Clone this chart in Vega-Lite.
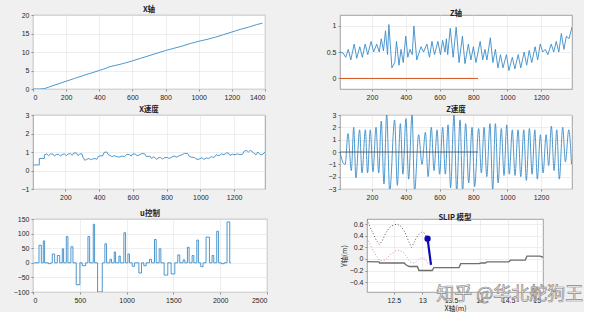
{
"$schema": "https://vega.github.io/schema/vega-lite/v6.json",
"background": "#f0f0f0",
"padding": {"left": 12, "top": 5, "right": 0, "bottom": 0},
"spacing": 4,
"datasets": {
"xpos": [{"t":0,"v":0},{"t":40,"v":0},{"t":70,"v":0.1},{"t":100,"v":0.6},{"t":150,"v":1.35},{"t":200,"v":2.1},{"t":250,"v":2.85},{"t":300,"v":3.6},{"t":350,"v":4.3},{"t":400,"v":5.0},{"t":440,"v":5.6},{"t":460,"v":6.0},{"t":500,"v":6.4},{"t":550,"v":6.95},{"t":600,"v":7.6},{"t":650,"v":8.3},{"t":700,"v":9.0},{"t":750,"v":9.7},{"t":800,"v":10.4},{"t":850,"v":11.0},{"t":900,"v":11.6},{"t":950,"v":12.3},{"t":1000,"v":12.9},{"t":1050,"v":13.4},{"t":1100,"v":14.0},{"t":1150,"v":14.7},{"t":1200,"v":15.4},{"t":1250,"v":16.1},{"t":1300,"v":16.7},{"t":1350,"v":17.4},{"t":1385,"v":17.8}],
"zpos": [{"t":11,"v":0.5},{"t":30,"v":0.48},{"t":45,"v":0.4},{"t":60,"v":0.55},{"t":75,"v":0.35},{"t":95,"v":0.65},{"t":110,"v":0.38},{"t":128,"v":0.6},{"t":143,"v":0.4},{"t":160,"v":0.65},{"t":175,"v":0.45},{"t":195,"v":0.7},{"t":210,"v":0.5},{"t":228,"v":0.65},{"t":243,"v":0.5},{"t":255,"v":0.75},{"t":268,"v":0.52},{"t":280,"v":0.9},{"t":292,"v":0.45},{"t":300,"v":1.02},{"t":318,"v":0.2},{"t":335,"v":0.3},{"t":345,"v":0.7},{"t":360,"v":0.25},{"t":372,"v":0.55},{"t":385,"v":0.3},{"t":400,"v":0.8},{"t":412,"v":0.4},{"t":425,"v":0.55},{"t":438,"v":0.45},{"t":448,"v":0.99},{"t":465,"v":0.35},{"t":490,"v":0.6},{"t":505,"v":0.5},{"t":525,"v":0.65},{"t":540,"v":0.4},{"t":555,"v":0.7},{"t":570,"v":0.45},{"t":590,"v":0.7},{"t":605,"v":0.45},{"t":618,"v":0.72},{"t":632,"v":0.5},{"t":640,"v":0.75},{"t":648,"v":0.45},{"t":663,"v":0.95},{"t":680,"v":0.4},{"t":698,"v":0.97},{"t":715,"v":0.3},{"t":735,"v":0.8},{"t":750,"v":0.28},{"t":770,"v":0.65},{"t":785,"v":0.35},{"t":800,"v":0.6},{"t":815,"v":0.3},{"t":840,"v":0.7},{"t":855,"v":0.35},{"t":868,"v":0.55},{"t":880,"v":0.35},{"t":900,"v":0.77},{"t":915,"v":0.3},{"t":930,"v":0.55},{"t":945,"v":0.2},{"t":960,"v":0.45},{"t":975,"v":0.2},{"t":995,"v":0.45},{"t":1010,"v":0.15},{"t":1030,"v":0.4},{"t":1045,"v":0.18},{"t":1065,"v":0.45},{"t":1080,"v":0.2},{"t":1100,"v":0.5},{"t":1115,"v":0.25},{"t":1130,"v":0.53},{"t":1145,"v":0.3},{"t":1165,"v":0.6},{"t":1180,"v":0.35},{"t":1195,"v":0.65},{"t":1210,"v":0.5},{"t":1225,"v":0.55},{"t":1240,"v":0.45},{"t":1260,"v":0.65},{"t":1275,"v":0.5},{"t":1290,"v":0.7},{"t":1305,"v":0.5},{"t":1320,"v":0.85},{"t":1335,"v":0.55},{"t":1350,"v":0.8},{"t":1365,"v":0.75},{"t":1383,"v":0.97}],
"zline": [{"t":11,"v":0},{"t":827,"v":0}],
"xvel": [{"t":10,"v":0.3},{"t":45,"v":0.3},{"t":46,"v":0.65},{"t":75,"v":0.65},{"t":76,"v":0.85},{"t":90,"v":0.9},{"t":100,"v":0.8},{"t":110,"v":0.88},{"t":125,"v":0.9},{"t":135,"v":0.78},{"t":145,"v":0.86},{"t":160,"v":0.88},{"t":170,"v":0.78},{"t":180,"v":0.85},{"t":195,"v":0.9},{"t":205,"v":0.8},{"t":215,"v":0.88},{"t":230,"v":0.92},{"t":240,"v":0.82},{"t":250,"v":0.95},{"t":265,"v":0.95},{"t":275,"v":0.8},{"t":285,"v":0.9},{"t":298,"v":0.9},{"t":305,"v":0.7},{"t":315,"v":0.55},{"t":325,"v":0.6},{"t":340,"v":0.65},{"t":350,"v":0.58},{"t":360,"v":0.62},{"t":375,"v":0.65},{"t":385,"v":0.6},{"t":395,"v":0.75},{"t":410,"v":0.8},{"t":420,"v":0.78},{"t":430,"v":0.98},{"t":445,"v":1.0},{"t":455,"v":0.85},{"t":465,"v":0.82},{"t":475,"v":0.75},{"t":490,"v":0.8},{"t":505,"v":0.75},{"t":520,"v":0.72},{"t":535,"v":0.78},{"t":550,"v":0.75},{"t":565,"v":0.88},{"t":580,"v":0.85},{"t":590,"v":0.78},{"t":600,"v":0.9},{"t":615,"v":0.88},{"t":625,"v":0.8},{"t":640,"v":0.85},{"t":655,"v":0.92},{"t":670,"v":0.9},{"t":680,"v":0.75},{"t":700,"v":0.78},{"t":710,"v":0.65},{"t":725,"v":0.75},{"t":740,"v":0.6},{"t":755,"v":0.7},{"t":765,"v":0.7},{"t":775,"v":0.62},{"t":790,"v":0.7},{"t":805,"v":0.7},{"t":815,"v":0.65},{"t":830,"v":0.72},{"t":845,"v":0.78},{"t":860,"v":0.72},{"t":875,"v":0.8},{"t":890,"v":0.85},{"t":905,"v":0.92},{"t":925,"v":0.92},{"t":935,"v":0.75},{"t":950,"v":0.72},{"t":965,"v":0.7},{"t":980,"v":0.6},{"t":995,"v":0.62},{"t":1010,"v":0.7},{"t":1020,"v":0.6},{"t":1035,"v":0.68},{"t":1050,"v":0.65},{"t":1065,"v":0.75},{"t":1080,"v":0.7},{"t":1095,"v":0.85},{"t":1110,"v":0.8},{"t":1125,"v":0.9},{"t":1140,"v":0.85},{"t":1155,"v":0.95},{"t":1165,"v":0.95},{"t":1175,"v":0.82},{"t":1190,"v":0.88},{"t":1205,"v":0.85},{"t":1220,"v":0.9},{"t":1235,"v":0.85},{"t":1250,"v":0.88},{"t":1260,"v":1.05},{"t":1275,"v":1.08},{"t":1285,"v":1.0},{"t":1295,"v":1.08},{"t":1305,"v":1.05},{"t":1315,"v":0.95},{"t":1330,"v":0.85},{"t":1340,"v":1.0},{"t":1350,"v":0.9},{"t":1360,"v":0.85},{"t":1370,"v":0.88},{"t":1383,"v":1.0}],
"zvel": [{"t":11,"v":0},{"t":22,"v":-0.6},{"t":32,"v":-0.95},{"t":42,"v":-1.0},{"t":58,"v":1.5},{"t":78,"v":-1.5},{"t":92,"v":2.0},{"t":105,"v":-2.1},{"t":127,"v":1.8},{"t":141,"v":-1.7},{"t":161,"v":1.8},{"t":174,"v":-1.7},{"t":190,"v":1.8},{"t":206,"v":-1.6},{"t":224,"v":2.0},{"t":240,"v":-1.7},{"t":255,"v":2.5},{"t":271,"v":-2.6},{"t":287,"v":3.1},{"t":305,"v":-3.2},{"t":334,"v":2.6},{"t":350,"v":-2.7},{"t":368,"v":2.3},{"t":383,"v":-1.8},{"t":401,"v":2.7},{"t":417,"v":-2.2},{"t":437,"v":3.1},{"t":452,"v":-3.2},{"t":476,"v":1.4},{"t":496,"v":-1.0},{"t":516,"v":1.6},{"t":532,"v":-2.0},{"t":551,"v":2.0},{"t":567,"v":-1.5},{"t":585,"v":1.8},{"t":600,"v":-1.8},{"t":618,"v":2.0},{"t":634,"v":-1.8},{"t":650,"v":2.2},{"t":665,"v":-2.9},{"t":685,"v":3.0},{"t":701,"v":-3.2},{"t":721,"v":2.6},{"t":736,"v":-3.2},{"t":754,"v":2.3},{"t":772,"v":-2.5},{"t":792,"v":2.0},{"t":807,"v":-2.8},{"t":831,"v":1.9},{"t":847,"v":-1.7},{"t":863,"v":2.0},{"t":879,"v":-2.0},{"t":898,"v":2.3},{"t":914,"v":-3.1},{"t":930,"v":2.3},{"t":946,"v":-2.5},{"t":965,"v":1.9},{"t":981,"v":-1.9},{"t":997,"v":2.2},{"t":1012,"v":-1.8},{"t":1030,"v":1.8},{"t":1046,"v":-1.9},{"t":1064,"v":1.8},{"t":1080,"v":-2.0},{"t":1098,"v":1.8},{"t":1113,"v":-2.3},{"t":1131,"v":1.9},{"t":1147,"v":-1.8},{"t":1163,"v":1.8},{"t":1178,"v":-2.2},{"t":1196,"v":1.4},{"t":1212,"v":-1.7},{"t":1230,"v":1.4},{"t":1245,"v":-1.1},{"t":1261,"v":2.1},{"t":1277,"v":-1.5},{"t":1293,"v":1.8},{"t":1308,"v":-2.2},{"t":1328,"v":2.0},{"t":1344,"v":-0.8},{"t":1364,"v":1.8},{"t":1380,"v":-1.0}],
"u": [{"t":10,"v":0},{"t":64,"v":60},{"t":89,"v":0},{"t":110,"v":75},{"t":124,"v":0},{"t":165,"v":-3},{"t":190,"v":0},{"t":206,"v":30},{"t":231,"v":0},{"t":260,"v":25},{"t":285,"v":0},{"t":313,"v":48},{"t":327,"v":0},{"t":356,"v":90},{"t":373,"v":0},{"t":405,"v":55},{"t":427,"v":0},{"t":462,"v":-75},{"t":501,"v":0},{"t":526,"v":-10},{"t":562,"v":0},{"t":587,"v":90},{"t":605,"v":0},{"t":644,"v":132},{"t":658,"v":0},{"t":690,"v":-100},{"t":740,"v":0},{"t":768,"v":65},{"t":786,"v":0},{"t":822,"v":12},{"t":839,"v":0},{"t":868,"v":37},{"t":882,"v":0},{"t":918,"v":23},{"t":932,"v":0},{"t":971,"v":103},{"t":989,"v":0},{"t":1014,"v":30},{"t":1031,"v":0},{"t":1060,"v":-12},{"t":1085,"v":0},{"t":1131,"v":-35},{"t":1159,"v":0},{"t":1184,"v":-10},{"t":1209,"v":0},{"t":1245,"v":12},{"t":1266,"v":0},{"t":1298,"v":80},{"t":1316,"v":0},{"t":1348,"v":48},{"t":1366,"v":0},{"t":1401,"v":-42},{"t":1440,"v":0},{"t":1476,"v":-38},{"t":1515,"v":0},{"t":1547,"v":27},{"t":1568,"v":0},{"t":1604,"v":10},{"t":1622,"v":0},{"t":1650,"v":53},{"t":1668,"v":0},{"t":1700,"v":25},{"t":1718,"v":0},{"t":1750,"v":78},{"t":1767,"v":0},{"t":1792,"v":-13},{"t":1817,"v":0},{"t":1849,"v":88},{"t":1885,"v":0},{"t":1913,"v":25},{"t":1931,"v":0},{"t":1963,"v":108},{"t":1981,"v":0},{"t":2013,"v":-3},{"t":2041,"v":0},{"t":2073,"v":140},{"t":2102,"v":0},{"t":2116,"v":0}],
"ground": [{"x":12.03,"y":-0.045},{"x":12.24,"y":-0.05},{"x":12.25,"y":-0.07},{"x":12.68,"y":-0.07},{"x":12.71,"y":-0.1},{"x":12.77,"y":-0.13},{"x":12.91,"y":-0.13},{"x":12.94,"y":-0.2},{"x":13.17,"y":-0.2},{"x":13.2,"y":-0.15},{"x":13.64,"y":-0.15},{"x":13.67,"y":-0.08},{"x":13.99,"y":-0.08},{"x":14.02,"y":-0.07},{"x":14.1,"y":-0.07},{"x":14.13,"y":-0.05},{"x":14.51,"y":-0.05},{"x":14.54,"y":-0.02},{"x":14.8,"y":-0.02},{"x":14.83,"y":0.05},{"x":15.06,"y":0.05},{"x":15.11,"y":0.03}],
"com": [{"x":12.03,"y":0.68},{"x":12.08,"y":0.56},{"x":12.14,"y":0.43},{"x":12.2,"y":0.31},{"x":12.25,"y":0.25},{"x":12.3,"y":0.32},{"x":12.36,"y":0.45},{"x":12.43,"y":0.55},{"x":12.5,"y":0.59},{"x":12.56,"y":0.6},{"x":12.63,"y":0.56},{"x":12.7,"y":0.45},{"x":12.76,"y":0.3},{"x":12.81,"y":0.2},{"x":12.86,"y":0.3},{"x":12.92,"y":0.41},{"x":12.98,"y":0.46},{"x":13.03,"y":0.45},{"x":13.07,"y":0.39},{"x":13.09,"y":0.35}],
"foot": [{"x":12.03,"y":0.36},{"x":12.08,"y":0.26},{"x":12.14,"y":0.14},{"x":12.2,"y":0.04},{"x":12.25,"y":-0.03},{"x":12.35,"y":-0.02},{"x":12.45,"y":0.09},{"x":12.53,"y":0.14},{"x":12.6,"y":0.15},{"x":12.67,"y":0.11},{"x":12.73,"y":0.03},{"x":12.78,"y":-0.05},{"x":12.86,"y":-0.07},{"x":12.93,"y":-0.01},{"x":12.99,"y":0.02},{"x":13.04,"y":0.01},{"x":13.08,"y":-0.05},{"x":13.1,"y":-0.1}],
"leg": [{"x":13.09,"y":0.35},{"x":13.15,"y":-0.1}],
"hip": [{"x":13.09,"y":0.35}],
"wm": [{"x":13.24,"y":-0.63,"label":"知乎 @华北舵狗王"}]
},
"vconcat": [
{"hconcat": [
 {"width": 232, "height": 74, "title": "X轴", "data": {"name": "xpos"},
  "mark": {"type": "line", "color": "#3a8cc8", "strokeWidth": 0.9, "clip": true},
  "encoding": {
   "x": {"field": "t", "type": "quantitative", "scale": {"domain": [0, 1400], "nice": false}, "axis": {"values": [0,200,400,600,800,1000,1200,1400], "format": "d", "title": null}},
   "y": {"field": "v", "type": "quantitative", "scale": {"domain": [0, 20], "nice": false}, "axis": {"values": [0,5,10,15,20], "format": "d", "title": null}}}},
 {"width": 232, "height": 74, "title": "Z轴",
  "encoding": {
   "x": {"field": "t", "type": "quantitative", "scale": {"domain": [11, 1383], "nice": false, "zero": false}, "axis": {"values": [200,400,600,800,1000,1200], "format": "d", "title": null, "labelOverlap": false}},
   "y": {"field": "v", "type": "quantitative", "scale": {"domain": [-0.2, 1.2], "nice": false, "zero": false}, "axis": {"values": [0,0.5,1], "format": "~g", "title": null, "labelOverlap": false}}},
  "layer": [
   {"data": {"name": "zpos"}, "mark": {"type": "line", "color": "#3a8cc8", "strokeWidth": 0.9, "clip": true}},
   {"data": {"name": "zline"}, "mark": {"type": "line", "color": "#D95319", "strokeWidth": 1, "clip": true}}
  ]}
], "spacing": 75, "bounds": "flush"},
{"vconcat": [
{"hconcat": [
 {"width": 232, "height": 74, "title": "X速度", "data": {"name": "xvel"},
  "mark": {"type": "line", "color": "#3a8cc8", "strokeWidth": 0.9, "clip": true},
  "encoding": {
   "x": {"field": "t", "type": "quantitative", "scale": {"domain": [8, 1383], "nice": false, "zero": false}, "axis": {"values": [200,400,600,800,1000,1200], "format": "d", "title": null}},
   "y": {"field": "v", "type": "quantitative", "scale": {"domain": [-1, 3], "nice": false}, "axis": {"values": [-1,0,1,2,3], "format": "d", "title": null}}}},
 {"width": 232, "height": 74, "title": "Z速度",
  "encoding": {
   "x": {"field": "t", "type": "quantitative", "scale": {"domain": [11, 1383], "nice": false, "zero": false}, "axis": {"values": [200,400,600,800,1000,1200], "format": "d", "title": null, "labelOverlap": false}},
   "y": {"field": "v", "type": "quantitative", "scale": {"domain": [-3, 3], "nice": false}, "axis": {"values": [-3,-2,-1,0,1,2,3], "format": "d", "title": null, "labelOverlap": false}}},
  "layer": [
   {"data": {"name": "zvel"}, "mark": {"type": "line", "color": "#3a8cc8", "strokeWidth": 0.9, "clip": true, "interpolate": "monotone"}},
   {"data": {"name": "zline"}, "mark": {"type": "line", "color": "#555555", "strokeWidth": 0.9, "clip": true}}
  ]}
], "spacing": 75, "bounds": "flush"},
{"hconcat": [
 {"width": 234, "height": 73, "title": "u控制", "data": {"name": "u"},
  "mark": {"type": "line", "color": "#3a8cc8", "strokeWidth": 0.9, "clip": true, "interpolate": "step-after"},
  "encoding": {
   "x": {"field": "t", "type": "quantitative", "scale": {"domain": [0, 2500], "nice": false}, "axis": {"values": [0,500,1000,1500,2000,2500], "format": "d", "title": null}},
   "y": {"field": "v", "type": "quantitative", "scale": {"domain": [-100, 150], "nice": false}, "axis": {"values": [-100,-50,0,50,100,150], "format": "d", "title": null}}}},
 {"width": 176, "height": 73, "title": "SLIP 模型",
  "encoding": {
   "x": {"field": "x", "type": "quantitative", "scale": {"domain": [12.03, 15.11], "nice": false, "zero": false}, "axis": {"values": [12.5,13,13.5,14,14.5,15], "format": "~g", "title": "X轴(m)", "titlePadding": 1, "labelOverlap": false}},
   "y": {"field": "y", "type": "quantitative", "scale": {"domain": [-0.57, 0.69], "nice": false, "zero": false}, "axis": {"values": [-0.4,-0.2,0,0.2,0.4,0.6], "format": "~g", "title": "Y轴(m)", "titlePadding": 2, "labelOverlap": false}}},
  "layer": [
   {"data": {"name": "ground"}, "mark": {"type": "line", "color": "#6e6e6e", "strokeWidth": 1.4, "clip": true}},
   {"data": {"name": "com"}, "mark": {"type": "line", "color": "#555555", "strokeWidth": 1, "strokeDash": [1, 2], "clip": true}},
   {"data": {"name": "foot"}, "mark": {"type": "line", "color": "#d98cc0", "strokeWidth": 1, "strokeDash": [1, 2], "clip": true}},
   {"data": {"name": "leg"}, "mark": {"type": "line", "color": "#0a0ab4", "strokeWidth": 2.2, "clip": true}},
   {"data": {"name": "hip"}, "mark": {"type": "point", "filled": true, "color": "#0a0ab4", "size": 40, "opacity": 1}},
   {"data": {"name": "wm"}, "mark": {"type": "text", "align": "left", "baseline": "middle", "font": "Noto Sans CJK SC", "fontSize": 18, "fill": "#ffffff", "fillOpacity": 0.85, "stroke": "#8a8a8a", "strokeWidth": 0.7},
    "encoding": {"text": {"field": "label"}}}
  ]}
], "spacing": 100, "bounds": "flush"}
], "spacing": 8}
],
"config": {
 "view": {"stroke": "#8c8c8c", "fill": "#ffffff", "strokeWidth": 0.8},
 "axis": {"labelFont": "Liberation Sans", "labelFontSize": 7, "labelColor": "#262626", "labelOverlap": false, "domain": false, "grid": true, "gridColor": "#e6e6e6", "gridWidth": 0.7, "tickColor": "#8c8c8c", "tickSize": 2, "labelPadding": 2, "titleFont": "Noto Sans CJK SC", "titleFontSize": 7, "titleFontWeight": "normal", "titleColor": "#262626"},
 "title": {"font": "Noto Sans CJK SC", "fontSize": 7.5, "fontWeight": "bold", "offset": -2, "color": "#222222"}
}
}
